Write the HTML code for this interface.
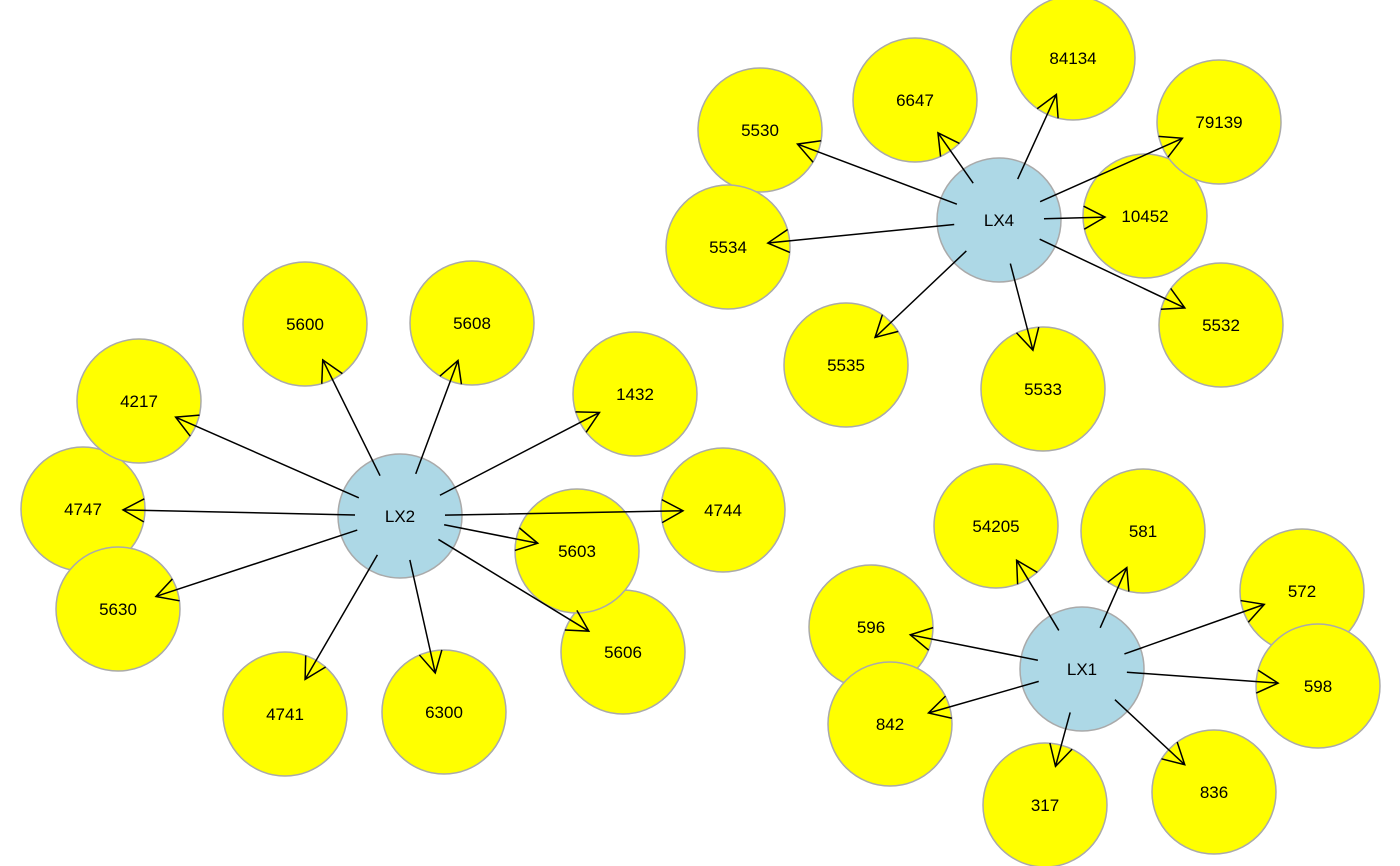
<!DOCTYPE html>
<html>
<head>
<meta charset="utf-8">
<style>
html,body{margin:0;padding:0;background:#fff;}
svg{display:block;}
text{font-family:"Liberation Sans",Arial,sans-serif;font-size:17px;fill:#000;}
</style>
</head>
<body>
<svg id="chart" width="1400" height="866" xmlns="http://www.w3.org/2000/svg">
<g id="nodes"></g>
<g id="edges"></g>
</svg>
<script>
const nodeNames = ["LX2","LX4","LX1","5600","5608","1432","4744","5606","5603","6300","4741","4747","5630","4217","5530","6647","84134","10452","79139","5532","5533","5535","5534","54205","581","572","598","836","317","596","842"];
const nodeX = [400,999,1082,305,472,635,723,623,577,444,285,83,118,139,760,915,1073,1145,1219,1221,1043,846,728,996,1143,1302,1318,1214,1045,871,890];
const nodeY = [516,220,669,324,323,394,510,652,551,712,714,509,609,401,130,100,58,216,122,325,389,365,247,526,531,591,686,792,805,627,724];
const hubs = ["LX2","LX4","LX1"];
const edgeFrom = ["LX2","LX2","LX2","LX2","LX2","LX2","LX2","LX2","LX2","LX2","LX2","LX4","LX4","LX4","LX4","LX4","LX4","LX4","LX4","LX4","LX1","LX1","LX1","LX1","LX1","LX1","LX1","LX1"];
const edgeTo = ["5600","5608","1432","4744","5603","5606","6300","4741","5630","4747","4217","5530","6647","84134","79139","10452","5532","5533","5535","5534","54205","581","572","598","836","317","842","596"];

const NS="http://www.w3.org/2000/svg";
const R=62;
const idx=n=>nodeNames.indexOf(n);
const gN=document.getElementById('nodes'), gE=document.getElementById('edges');
nodeNames.forEach((n,i)=>{
  const g=document.createElementNS(NS,'g');
  
  
  const c=document.createElementNS(NS,'circle');
  c.setAttribute('cx',nodeX[i]);c.setAttribute('cy',nodeY[i]);c.setAttribute('r',R);
  c.setAttribute('fill',hubs.includes(n)?'#add8e6':'#ffff00');
  c.setAttribute('stroke','#aaaaaa');c.setAttribute('stroke-width','1.5');
  const t=document.createElementNS(NS,'text');
  t.setAttribute('x',nodeX[i]);t.setAttribute('y',nodeY[i]+6);t.setAttribute('text-anchor','middle');
  t.textContent=n;
  g.appendChild(c);g.appendChild(t);gN.appendChild(g);
});
edgeFrom.forEach((f,k)=>{
  const a=idx(f),b=idx(edgeTo[k]);
  const dx=nodeX[b]-nodeX[a],dy=nodeY[b]-nodeY[a],d=Math.hypot(dx,dy),ux=dx/d,uy=dy/d;
  const sx=nodeX[a]+ux*45,sy=nodeY[a]+uy*45,ex=nodeX[b]-ux*40,ey=nodeY[b]-uy*40;
  const p=document.createElementNS(NS,'path');
  const L=24,ang=0.5,th=Math.atan2(uy,ux);
  const x1=ex-L*Math.cos(th-ang),y1=ey-L*Math.sin(th-ang),x2=ex-L*Math.cos(th+ang),y2=ey-L*Math.sin(th+ang);
  p.setAttribute('d',`M${sx},${sy}L${ex},${ey}M${x1},${y1}L${ex},${ey}L${x2},${y2}`);
  p.setAttribute('stroke','#000');p.setAttribute('stroke-width','1.5');p.setAttribute('fill','none');
  
  
  gE.appendChild(p);
});
</script>
</body>
</html>
